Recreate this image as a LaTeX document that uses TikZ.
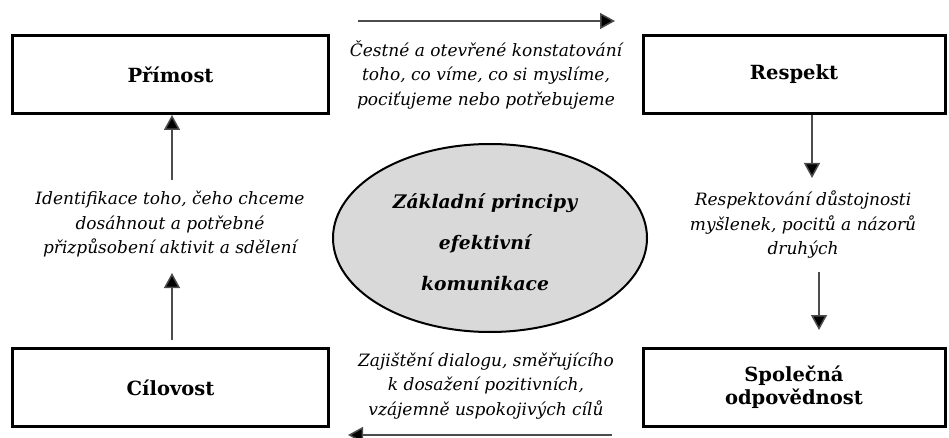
\documentclass[tikz,border=0pt]{standalone}
\usepackage{fontspec}
\setmainfont{DejaVu Serif}
\usetikzlibrary{arrows.meta,shapes.geometric}
\tikzset{
  box/.style={draw=black,line width=3pt,minimum width=316pt,minimum height=78pt,inner sep=0pt,align=center,
    font=\fontsize{19.5}{23}\selectfont\bfseries},
  lbl/.style={align=center,inner sep=0pt,font=\fontsize{17}{24.5}\selectfont\itshape},
  arr/.style={draw=black!70,line width=1.5pt,-{Triangle[width=16pt,length=15pt,fill=black]}},
}
\begin{document}
\begin{tikzpicture}[x=1pt,y=-1pt]
\useasboundingbox (0,0) rectangle (949,438);
\node[box] (pri) at (170.5,74.5) {Přímost};
\node[box,minimum width=302pt] (res) at (794,74.5) {Respekt};
\node[box] (cil) at (170.5,387.5) {Cílovost};
\node[box,minimum width=302pt] (spo) at (794,387.5) {Společná\\odpovědnost};
\node[ellipse,draw=black,line width=2pt,fill=black!15,minimum width=314pt,minimum height=188pt,inner sep=0pt] (ell) at (490,238) {};
\node[align=center,inner sep=0pt,font=\fontsize{18.7}{41}\selectfont\bfseries\itshape] (elt) at (485,242) {Základní principy\\efektivní\\komunikace};
\node[lbl] (tl) at (486,75) {Čestné a otevřené konstatování\\toho, co víme, co si myslíme,\\pociťujeme nebo potřebujeme};
\node[lbl] (ll) at (170,224) {Identifikace toho, čeho chceme\\dosáhnout a potřebné\\přizpůsobení aktivit a sdělení};
\node[lbl] (rl) at (803,225) {Respektování důstojnosti\\myšlenek, pocitů a názorů\\druhých};
\node[lbl] (bl) at (486,386) {Zajištění dialogu, směřujícího\\k dosažení pozitivních,\\vzájemně uspokojivých cílů};
\coordinate (t1) at (358,21); \coordinate (t2) at (615,21);
\coordinate (b1) at (612,435); \coordinate (b2) at (348,435);
\coordinate (l1) at (172,180); \coordinate (l2) at (172,340); \coordinate (l3) at (172,273);
\coordinate (r1) at (812,178); \coordinate (r2) at (819,272); \coordinate (r3) at (819,330);
\draw[arr] (t1) -- (t2);
\draw[arr] (b1) -- (b2);
\draw[arr] (l1) -- (l1 |- pri.south);
\draw[arr] (l2) -- (l3);
\draw[arr] (r1 |- res.south) -- (r1);
\draw[arr] (r2) -- (r3);
\end{tikzpicture}
\end{document}
